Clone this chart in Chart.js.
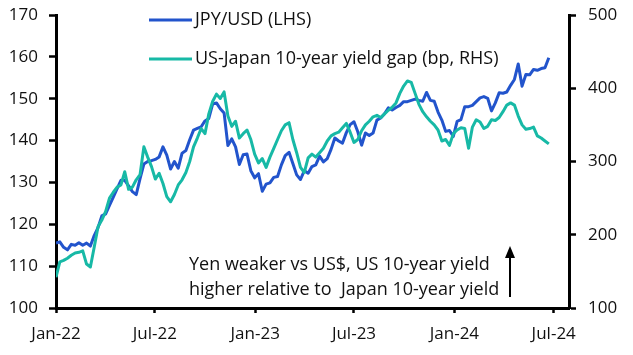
<!DOCTYPE html>
<html><head><meta charset="utf-8">
<script src="https://cdn.jsdelivr.net/npm/chart.js@4"></script>
<style>html,body{margin:0;padding:0;background:#fff;}canvas{display:block}</style>
</head><body>
<canvas id="c" width="633" height="355"></canvas>
<script>
// x positions: days since 1 Jan 2022 (weekly observations)
const days = [0,7,14,21,28,35,42,49,56,63,70,77,84,91,98,105,112,119,126,133,140,147,154,161,168,175,182,189,196,203,210,217,224,231,238,245,252,259,266,273,280,287,294,301,308,315,322,329,336,343,350,357,364,371,378,385,392,399,406,413,420,427,434,441,448,455,462,469,476,483,490,497,504,511,518,525,532,539,546,553,560,567,574,581,588,595,602,609,616,623,630,637,644,651,658,665,672,679,686,693,700,707,714,721,728,735,742,749,756,763,770,777,784,791,798,805,812,819,826,833,840,847,854,861,868,875,882,889,896,903];
const jpyUsd = [115.5,115.8,114.5,113.9,115.2,115.0,115.6,115.0,115.5,114.8,
117.3,119.2,122.0,122.5,124.5,126.5,128.5,130.5,130.5,129.2,
127.8,127.1,130.9,134.4,135.0,135.2,135.5,136.1,138.5,136.5,
133.2,135.0,133.4,137.0,137.6,140.2,142.5,142.9,143.3,144.7,
145.3,148.7,149.0,147.6,146.6,138.8,140.4,138.5,134.3,136.6,
136.8,132.8,131.1,132.1,127.9,129.6,129.9,131.2,131.4,134.2,
136.4,137.2,134.5,131.8,130.7,132.8,132.2,133.8,134.2,136.3,
134.9,135.7,137.9,140.6,139.9,139.4,141.9,143.8,144.5,142.1,
138.9,141.8,141.2,141.8,144.9,145.4,146.4,147.8,147.3,147.9,
148.4,149.3,149.3,149.6,149.9,149.6,149.4,151.5,149.6,149.4,
146.8,144.9,142.2,142.4,141.0,144.6,145.0,148.1,148.1,148.4,
149.3,150.2,150.5,150.1,147.1,149.0,151.4,151.3,151.6,153.2,
154.6,158.3,153.0,155.8,155.7,157.0,156.8,157.2,157.4,159.8];
const yieldGap = [142,163,165,168,172,175,176,178,160,156,
183,211,220,232,250,258,265,268,286,262,
265,275,282,320,306,293,276,284,270,252,
245,255,268,275,285,300,320,332,345,338,
365,382,392,386,395,362,348,355,332,338,
343,330,310,298,304,292,306,318,330,342,
350,353,330,312,292,285,305,310,306,312,
318,328,335,338,340,346,352,340,326,330,
342,350,355,361,363,360,365,370,374,380,
393,403,410,408,393,378,368,361,355,350,
343,328,330,322,338,343,346,345,318,347,
357,354,345,348,357,356,360,368,377,380,
377,362,350,344,345,347,335,332,328,324];
const xTickDays = [0,181,365,546,730,912];
const xTickLabels = ['Jan-22','Jul-22','Jan-23','Jul-23','Jan-24','Jul-24'];
const seriesLabels = ['JPY/USD (LHS)','US-Japan 10-year yield gap (bp, RHS)'];
const noteLines = ['Yen weaker vs US$, US 10-year yield','higher relative to  Japan 10-year yield'];

const BLUE = '#2254cc', TEAL = '#17b9a6';
const FONT = '"Open Sans", sans-serif';

const overlay = {
  id: 'overlay',
  afterDraw(chart) {
    const ctx = chart.ctx;
    ctx.save();
    ctx.font = '18px ' + FONT;
    ctx.textBaseline = 'middle';
    ctx.textAlign = 'left';
    const legendY = [20, 59];
    chart.data.datasets.forEach((ds, k) => {
      ctx.strokeStyle = ds.borderColor;
      ctx.lineWidth = 3;
      ctx.beginPath(); ctx.moveTo(149, legendY[k]); ctx.lineTo(192, legendY[k]); ctx.stroke();
      ctx.fillStyle = '#111';
      ctx.fillText(ds.label, 195, legendY[k]);
    });
    ctx.fillStyle = '#111';
    ctx.fillText(noteLines[0], 189, 265);
    ctx.fillText(noteLines[1], 189, 290);
    // arrow
    const ax = 510;
    ctx.strokeStyle = '#000'; ctx.fillStyle = '#000'; ctx.lineWidth = 2;
    ctx.beginPath(); ctx.moveTo(ax, 297); ctx.lineTo(ax, 256); ctx.stroke();
    ctx.beginPath(); ctx.moveTo(ax, 246); ctx.lineTo(ax - 5, 258); ctx.lineTo(ax + 5, 258); ctx.closePath(); ctx.fill();
    ctx.restore();
  }
};

const noPad = s => { s.paddingTop = 0; s.paddingBottom = 0; };

new Chart(document.getElementById('c'), {
  type: 'line',
  data: {
    datasets: [
      { label: seriesLabels[0], data: days.map((d, i) => ({x: d, y: jpyUsd[i]})), borderColor: BLUE, backgroundColor: BLUE, borderWidth: 3, pointRadius: 0, yAxisID: 'yL', order: 1 },
      { label: seriesLabels[1], data: days.map((d, i) => ({x: d, y: yieldGap[i]})), borderColor: TEAL, backgroundColor: TEAL, borderWidth: 3, pointRadius: 0, yAxisID: 'yR', order: 0 }
    ]
  },
  options: {
    responsive: false,
    animation: false,
    devicePixelRatio: 1,
    layout: { padding: { top: 15, left: 0, right: 0, bottom: 0 } },
    plugins: { legend: { display: false }, tooltip: { enabled: false } },
    elements: { line: { borderJoinStyle: 'round', tension: 0 } },
    scales: {
      x: {
        type: 'linear', min: 0, max: 940,
        afterBuildTicks: s => { s.ticks = xTickDays.map(v => ({value: v})); },
        afterFit: s => { s.height = 47; s.paddingLeft = 0; s.paddingRight = 0; },
        ticks: { callback: (v) => xTickLabels[xTickDays.indexOf(v)], color: '#111', font: { family: FONT, size: 17 }, padding: 11, maxRotation: 0, autoSkip: false },
        grid: { drawOnChartArea: false, drawTicks: true, tickLength: 5, tickColor: '#000', tickWidth: 2.5 },
        border: { color: '#000', width: 3 }
      },
      yL: {
        position: 'left', min: 100, max: 170,
        ticks: { stepSize: 10, color: '#111', font: { family: FONT, size: 17 }, padding: 11 },
        afterFit: s => { s.width = 56; noPad(s); },
        grid: { drawOnChartArea: false, drawTicks: true, tickLength: 7, tickColor: '#000', tickWidth: 2.5 },
        border: { color: '#000', width: 3 }
      },
      yR: {
        position: 'right', min: 100, max: 500,
        ticks: { stepSize: 100, color: '#111', font: { family: FONT, size: 17 }, padding: 12 },
        afterFit: s => { s.width = 64; noPad(s); },
        grid: { drawOnChartArea: false, drawTicks: true, tickLength: 7, tickColor: '#000', tickWidth: 2.5 },
        border: { color: '#000', width: 3 }
      }
    }
  },
  plugins: [overlay]
});
</script>
</body></html>
